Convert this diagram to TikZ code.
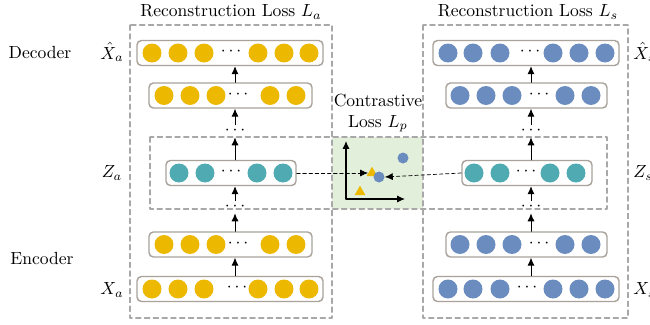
\documentclass[tikz,border=0pt]{standalone}
\usetikzlibrary{arrows.meta,shapes.geometric}
\definecolor{gold}{HTML}{EDB800}
\definecolor{steel}{HTML}{6B8CBE}
\definecolor{teal2}{HTML}{4FABB1}
\definecolor{boxgray}{HTML}{A8A29A}
\definecolor{dashgray}{HTML}{A8A8A8}
\definecolor{lossgreen}{HTML}{E2EFDA}
\begin{document}
\begin{tikzpicture}[x=0.02cm, y=-0.02cm, line cap=round, line join=round, >=Latex, font=\normalsize]
	\tikzset{layer/.style={draw=boxgray, line width=0.8pt, rounded corners=2.5pt, fill=white, minimum height=0.5cm},
		unit/.style={circle, inner sep=0pt, minimum size=0.38cm},
		gap/.style={inner sep=0pt, minimum height=0.24cm},
		region/.style={draw=dashgray, line width=0.6pt, dash pattern=on 3pt off 2pt},
		flow/.style={-{Latex[length=4.5pt,width=4pt]}, line width=0.5pt},
		link/.style={-{Latex[length=4.5pt,width=4pt]}, dash pattern=on 2pt off 1.5pt, line width=0.4pt}}
	\useasboundingbox (0,0) rectangle (650,325);
	% regions
	\fill[lossgreen] (332,137) rectangle (423,209);
	\draw[region] (150,137) rectangle (607,209);
	\draw[region] (130,25) rectangle (332,318);
	\draw[region] (423,25) rectangle (628,318);
	\node (titleA) at (231,12) {Reconstruction Loss $L_a$};
	\node (titleS) at (528,12) {Reconstruction Loss $L_s$};
	\node[align=center] (titleP) at (378,113) {Contrastive\\Loss $L_p$};
	\node (dec) at (40,52) {Decoder};
	\node (enc) at (42,258) {Encoder};
	% left autoencoder
	\node (labXhA) at (112,52) {$\hat{X}_a$};
	\node (labZA) at (112,173) {$Z_a$};
	\node (labXA) at (112,290) {$X_a$};
	\node[layer, minimum width=3.72cm] (xhA) at (230,53) {};
	\node[layer, minimum width=3.26cm] (decA) at (230.5,95.5) {};
	\node[layer, minimum width=2.6cm] (zA) at (231,173) {};
	\node[layer, minimum width=3.26cm] (encA) at (230.5,244.5) {};
	\node[layer, minimum width=3.72cm] (xA) at (230,289) {};
	\foreach \x in {152,178,204,258,284,309} \node[unit, fill=gold] (xhA-\x) at (\x,53) {};
	\node (xhA-d) at (231,52) {$\cdots$};
	\foreach \x in {164,190,216,270,296} \node[unit, fill=gold] (decA-\x) at (\x,95.5) {};
	\node (decA-d) at (238,94.5) {$\cdots$};
	\foreach \x in {179,205,257,283} \node[unit, fill=teal2] (zA-\x) at (\x,173) {};
	\node (zA-d) at (231,172) {$\cdots$};
	\foreach \x in {164,190,216,270,296} \node[unit, fill=gold] (encA-\x) at (\x,244.5) {};
	\node (encA-d) at (238,243.5) {$\cdots$};
	\foreach \x in {152,178,204,258,284,309} \node[unit, fill=gold] (xA-\x) at (\x,289) {};
	\node (xA-d) at (237,288) {$\cdots$};
	\coordinate (spineA) at (235,0);
	\node[gap] (gapA1) at (235,131) {$\cdots$};
	\node[gap] (gapA2) at (235,207) {$\cdots$};
	\draw[flow] (xA.north -| spineA) -- (encA.south -| spineA);
	\draw[flow] (encA.north -| spineA) -- (gapA2.south);
	\draw[flow] (gapA2.north) -- (zA.south -| spineA);
	\draw[flow] (zA.north -| spineA) -- (gapA1.south);
	\draw[flow] (gapA1.north) -- (decA.south -| spineA);
	\draw[flow] (decA.north -| spineA) -- (xhA.south -| spineA);
	% right autoencoder
	\node[anchor=west, inner sep=0pt] (labXhS) at (633,52) {$\hat{X}_s$};
	\node[anchor=west, inner sep=0pt] (labZS) at (633,173) {$Z_s$};
	\node[anchor=west, inner sep=0pt] (labXS) at (633,290) {$X_s$};
	\node[layer, minimum width=3.72cm] (xhS) at (526,53) {};
	\node[layer, minimum width=3.22cm] (decS) at (526.5,95.5) {};
	\node[layer, minimum width=2.6cm] (zS) at (527,173) {};
	\node[layer, minimum width=3.22cm] (encS) at (526.5,244.5) {};
	\node[layer, minimum width=3.72cm] (xS) at (526,289) {};
	\foreach \x in {448,473,500,553,579,605} \node[unit, fill=steel] (xhS-\x) at (\x,53) {};
	\node (xhS-d) at (530,52) {$\cdots$};
	\foreach \x in {460,486,512,565,591} \node[unit, fill=steel] (decS-\x) at (\x,95.5) {};
	\node (decS-d) at (539,94.5) {$\cdots$};
	\foreach \x in {474,500,550,576} \node[unit, fill=teal2] (zS-\x) at (\x,173) {};
	\node (zS-d) at (526,172) {$\cdots$};
	\foreach \x in {460,486,512,565,591} \node[unit, fill=steel] (encS-\x) at (\x,244.5) {};
	\node (encS-d) at (539,243.5) {$\cdots$};
	\foreach \x in {448,473,500,553,579,605} \node[unit, fill=steel] (xS-\x) at (\x,289) {};
	\node (xS-d) at (527,288) {$\cdots$};
	\coordinate (spineS) at (531,0);
	\node[gap] (gapS1) at (531,131) {$\cdots$};
	\node[gap] (gapS2) at (531,207) {$\cdots$};
	\draw[flow] (xS.north -| spineS) -- (encS.south -| spineS);
	\draw[flow] (encS.north -| spineS) -- (gapS2.south);
	\draw[flow] (gapS2.north) -- (zS.south -| spineS);
	\draw[flow] (zS.north -| spineS) -- (gapS1.south);
	\draw[flow] (gapS1.north) -- (decS.south -| spineS);
	\draw[flow] (decS.north -| spineS) -- (xhS.south -| spineS);
	% contrastive space
	\coordinate (orig) at (346,199);
	\coordinate (yend) at (346,141);
	\coordinate (xend) at (405,199);
	\draw[flow, line width=0.6pt] (orig) -- (yend);
	\draw[flow, line width=0.6pt] (orig) -- (xend);
	\node[regular polygon, regular polygon sides=3, fill=gold, inner sep=0pt, minimum size=0.25cm] (triA1) at (372,173) {};
	\node[regular polygon, regular polygon sides=3, fill=gold, inner sep=0pt, minimum size=0.25cm] (triA2) at (360,192) {};
	\node[circle, fill=steel, inner sep=0pt, minimum size=0.22cm] (dotS1) at (379,177) {};
	\node[circle, fill=steel, inner sep=0pt, minimum size=0.22cm] (dotS2) at (403,158) {};
	\draw[link] (zA.east) -- (triA1.west);
	\draw[link] (zS.west) -- (dotS1.east);
\end{tikzpicture}
\end{document}
